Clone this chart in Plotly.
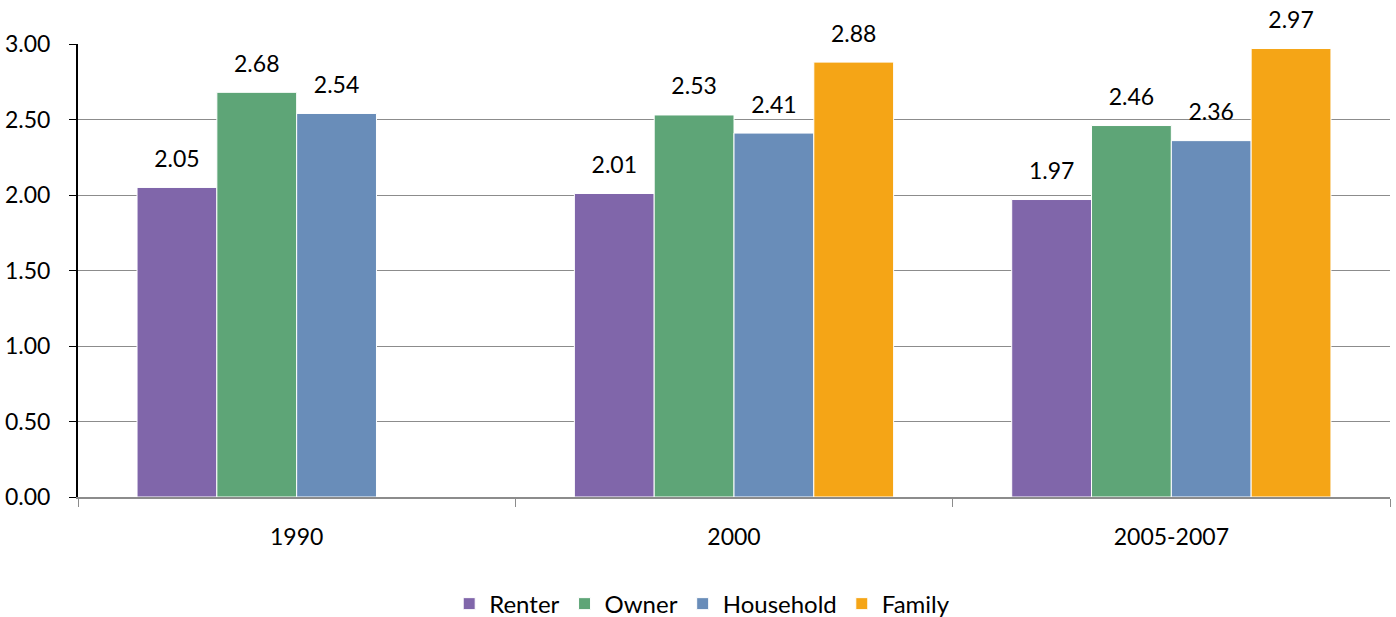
import plotly.graph_objects as go

years = ["1990", "2000", "2005-2007"]
renter = [2.05, 2.01, 1.97]
owner = [2.68, 2.53, 2.46]
household = [2.54, 2.41, 2.36]
family = [None, 2.88, 2.97]

series = [
    ("Renter", renter, "#8066AA"),
    ("Owner", owner, "#5EA577"),
    ("Household", household, "#698DB9"),
    ("Family", family, "#F5A516"),
]

font = "Lato, 'Open Sans', sans-serif"
fs = 23

fig = go.Figure()
for i, (name, vals, color) in enumerate(series):
    fig.add_trace(go.Bar(
        x=years, y=vals, name=name, offsetgroup=str(i),
        marker=dict(color=color, line=dict(color="white", width=1)),
    ))
# value labels: invisible markers lift the text a bit above the bar tops
for i, (name, vals, color) in enumerate(series):
    fig.add_trace(go.Scatter(
        x=years, y=vals, mode="markers+text", offsetgroup=str(i),
        text=["" if v is None else "%.2f" % v for v in vals],
        textposition="top center", showlegend=False, hoverinfo="skip",
        marker=dict(size=22, opacity=0), cliponaxis=False,
        textfont=dict(size=fs, color="black", family=font),
    ))

fig.update_layout(
    width=1396, height=617,
    barmode="group", bargap=0.27, bargroupgap=0,
    scattermode="group", scattergap=0.27,
    plot_bgcolor="white", paper_bgcolor="white",
    margin=dict(l=78, r=6, t=44, b=120, autoexpand=False),
    font=dict(family=font, size=fs, color="black"),
    showlegend=True,
    legend=dict(orientation="h", xref="container", yref="container",
                x=0.503, xanchor="center", y=0.021, yanchor="middle",
                font=dict(size=24), itemwidth=30, traceorder="normal"),
    xaxis=dict(showline=True, linecolor="#8c8c8c", linewidth=2, ticks="outside",
               tickson="boundaries", ticklen=8, tickcolor="#8c8c8c",
               tickfont=dict(size=fs), automargin=False, ticklabelstandoff=18),
    yaxis=dict(range=[0, 3], dtick=0.5, tickformat=".2f", showgrid=True,
               gridcolor="#8c8c8c", gridwidth=1, showline=True, linecolor="black",
               linewidth=2, ticks="outside", ticklen=7, tickcolor="black",
               tickfont=dict(size=fs), zeroline=False, automargin=False,
               ticklabelstandoff=14),
)

# drop the default 8px body margin so the figure sits at the window corner
fig.write_html("out.html", config={"displayModeBar": False},
               post_script="document.body.style.margin='0';")
